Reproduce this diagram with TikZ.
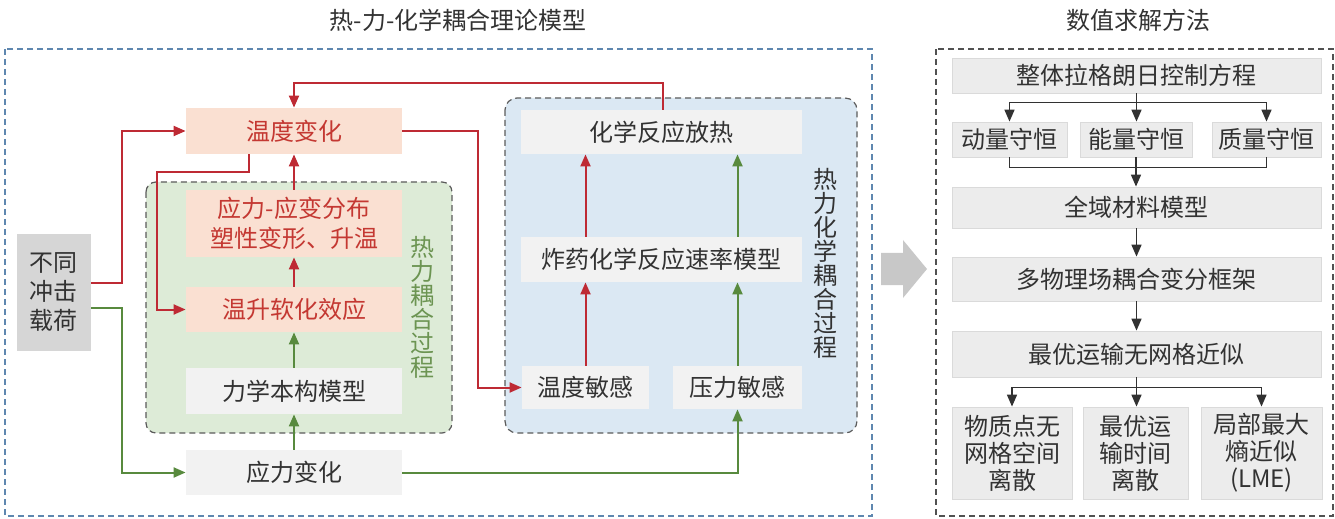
\documentclass[tikz,border=0pt]{standalone}
\usepackage{fontspec}
\setmainfont{Noto Sans CJK SC}
\usetikzlibrary{arrows.meta,calc}
\definecolor{redl}{RGB}{190,42,52}
\definecolor{redt}{RGB}{196,56,50}
\definecolor{greenl}{RGB}{88,138,62}
\definecolor{greent}{RGB}{108,148,82}
\definecolor{peach}{RGB}{250,224,210}
\definecolor{lgray}{RGB}{242,242,242}
\definecolor{rgray}{RGB}{236,236,236}
\definecolor{rborder}{RGB}{218,218,218}
\definecolor{greenbg}{RGB}{221,235,215}
\definecolor{bluebg}{RGB}{219,232,243}
\definecolor{frameblue}{RGB}{95,135,175}
\definecolor{txt}{RGB}{50,50,50}
\definecolor{bigarrow}{RGB}{200,200,200}
\tikzset{
  base/.style={inner sep=0pt, align=center, font=\fontsize{12}{15}\selectfont},
  pbox/.style={base, fill=peach, text=redt},
  gbox/.style={base, fill=lgray, text=txt},
  rbox/.style={base, fill=rgray, draw=rborder, line width=0.4pt, text=txt},
  redarr/.style={draw=redl, line width=1pt, -{Triangle[length=6pt,width=5pt]}},
  grnarr/.style={draw=greenl, line width=1pt, -{Triangle[length=6pt,width=5pt]}},
  blkarr/.style={draw=txt, line width=0.8pt, -{Triangle[length=6pt,width=5pt]}},
  blkln/.style={draw=txt, line width=0.8pt},
  title/.style={base, text=txt},
  vlabel/.style={inner sep=0pt, align=center, font=\fontsize{12}{12}\selectfont},
}
\newcommand{\bx}[7]{\node[#1, minimum width=#5*0.5pt, minimum height=#6*0.5pt] (#2) at (#3,#4) {#7};}
\begin{document}
\begin{tikzpicture}[x=0.5pt,y=-0.5pt]
\useasboundingbox (0,0) rectangle (1335,519);
% frames
\draw[frameblue, line width=0.7pt, dash pattern=on 3pt off 2pt] (5,49) rectangle (872,516);
\draw[txt!85, line width=0.7pt, dash pattern=on 3pt off 2pt] (936,49) rectangle (1333,516);
\node[title] (t1) at (458,20) {热-力-化学耦合理论模型};
\node[title] (t2) at (1138,20) {数值求解方法};
% regions
\draw[fill=greenbg, draw=txt!80, line width=0.6pt, dash pattern=on 3pt off 2pt, rounded corners=5pt] (146,182) rectangle (452,433);
\draw[fill=bluebg, draw=txt!80, line width=0.6pt, dash pattern=on 3pt off 2pt, rounded corners=6pt] (505,98) rectangle (857,433);
\node[vlabel, text=greent] (gl) at (422,307) {热\\力\\耦\\合\\过\\程};
\node[vlabel, text=txt] (bl) at (825,263.5) {热\\力\\化\\学\\耦\\合\\过\\程};
% left boxes
\bx{pbox}{wd}{294}{131}{216}{46}{温度变化}
\bx{pbox}{ss}{294}{223.5}{216}{67}{应力-应变分布\\塑性变形、升温}
\bx{pbox}{rs}{294}{309.5}{216}{45}{温升软化效应}
\bx{gbox}{lx}{294}{391}{216}{46}{力学本构模型}
\bx{gbox}{yl}{294}{472.5}{216}{45}{应力变化}
\node[base, fill=black!16, text=txt, minimum width=37pt, minimum height=58.5pt, font=\fontsize{12}{14.5}\selectfont] (bt) at (54,292.5) {不同\\冲击\\载荷};
\bx{gbox}{hx}{661.5}{132}{281}{44}{化学反应放热}
\bx{gbox}{zy}{661.5}{259.5}{281}{45}{炸药化学反应速率模型}
\bx{gbox}{wm}{585.5}{387.5}{127}{43}{温度敏感}
\bx{gbox}{ym}{737.5}{387.5}{129}{43}{压力敏感}
% left connectors
\draw[redarr] ($(bt.east)+(0,-9.5)$) -- ++(31,0) |- (wd.west);
\draw[redarr] ($(wd.south)+(-45,0)$) -- ++(0,18) -- ++(-92,0) |- (rs.west);
\draw[redarr] (ss.north) -- (wd.south);
\draw[redarr] (rs.north) -- (ss.south);
\draw[grnarr] (lx.north) -- (rs.south);
\draw[grnarr] (yl.north) -- (lx.south);
\draw[grnarr] ($(bt.east)+(0,15.5)$) -- ++(31,0) |- (yl.west);
\draw[grnarr] (yl.east) -| (ym.south);
\draw[redarr] (wd.east) -- ++(76,0) |- (wm.west);
\draw[redarr] ($(hx.north)+(1.5,0)$) -- ++(0,-27) -| (wd.north);
\draw[redarr] (wm.north) -- (wm.north |- zy.south);
\draw[grnarr] (ym.north) -- (ym.north |- zy.south);
\draw[redarr] (wm.north |- zy.north) -- (wm.north |- hx.south);
\draw[grnarr] (ym.north |- zy.north) -- (ym.north |- hx.south);
% big arrow
\fill[bigarrow] (881,253) -- (903,253) -- (903,240) -- (927,269) -- (903,298) -- (903,285) -- (881,285) -- cycle;
% right boxes
\bx{rbox}{zt}{1136.5}{75.5}{369}{35}{整体拉格朗日控制方程}
\bx{rbox}{dl}{1009.5}{139.5}{115}{35}{动量守恒}
\bx{rbox}{nl}{1136}{139.5}{112}{35}{能量守恒}
\bx{rbox}{zl}{1266.5}{139.5}{109}{35}{质量守恒}
\bx{rbox}{qy}{1136.5}{207.5}{369}{41}{全域材料模型}
\bx{rbox}{dw}{1136.5}{279}{369}{44}{多物理场耦合变分框架}
\bx{rbox}{zy2}{1136.5}{354}{369}{46}{最优运输无网格近似}
\node[rbox, minimum width=60pt, minimum height=46pt, font=\fontsize{12}{13.5}\selectfont] (b1) at (1012,453) {物质点无\\网格空间\\离散};
\node[rbox, minimum width=52.5pt, minimum height=46pt, font=\fontsize{12}{13.5}\selectfont] (b2) at (1135.5,453) {最优运\\输时间\\离散};
\node[rbox, minimum width=60.5pt, minimum height=46pt, font=\fontsize{12}{13.5}\selectfont] (b3) at (1261.5,453) {局部最大\\熵近似\\(LME)};
% right connectors
\coordinate (s1) at ($(zt.south)+(0,9)$);
\draw[blkln] (zt.south) -- (s1);
\draw[blkarr] (s1) -| (dl.north);
\draw[blkarr] (s1) -| (zl.north);
\draw[blkarr] (s1) -- (s1 |- nl.north);
\coordinate (m1) at ($(nl.south)+(0,10)$);
\draw[blkln] (dl.south) |- (m1) -| (zl.south);
\draw[blkln] (nl.south) -- (m1);
\draw[blkarr] (m1) -- (m1 |- qy.north);
\draw[blkarr] (qy.south) -- (dw.north);
\draw[blkarr] (dw.south) -- (zy2.north);
\coordinate (s2) at ($(zy2.south)+(0,10)$);
\draw[blkln] (zy2.south) -- (s2);
\draw[blkarr] (s2) -| (b1.north);
\draw[blkarr] (s2) -| (b3.north);
\draw[blkarr] (s2) -- (s2 |- b2.north);
\end{tikzpicture}
\end{document}
